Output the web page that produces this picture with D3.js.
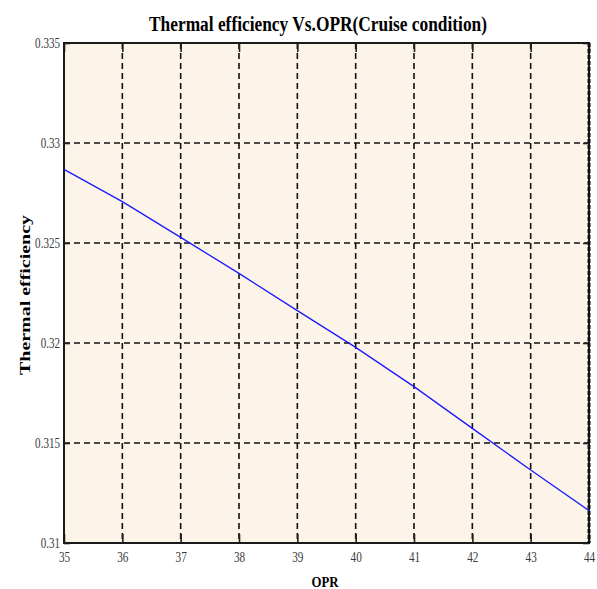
<!DOCTYPE html>
<html>
  <head>
    <meta charset="utf-8">
    <script src="https://d3js.org/d3.v7.min.js"></script>
    <style>
      body { margin: 0px; background: #fff; }
      .tick text {
        fill: #3a3a3a;
        font-size: 14px;
        font-family: 'Liberation Serif', serif;
      }
      .domain { display: none; }
    </style>
  </head>
  <body>
    <svg width="597" height="589"></svg>
    <script>
      const opr = [35, 36, 37, 38, 39, 40, 41, 42, 43, 44];
      const efficiency = [0.32868, 0.32707, 0.32528, 0.32348, 0.32162, 0.31978, 0.31782, 0.31573, 0.31365, 0.31162];
      const xTicks = [35, 36, 37, 38, 39, 40, 41, 42, 43, 44];
      const yTicks = [0.31, 0.315, 0.32, 0.325, 0.33, 0.335];

      const margin = { left: 64, right: 8, top: 43, bottom: 46 };
      const svg = d3.select('svg');
      const width = +svg.attr('width');
      const height = +svg.attr('height');
      const innerWidth = width - margin.left - margin.right;
      const innerHeight = height - margin.top - margin.bottom;

      const g = svg.append('g')
          .attr('transform', `translate(${margin.left},${margin.top})`);

      const xScale = d3.scaleLinear().domain([35, 44]).range([0, innerWidth]);
      const yScale = d3.scaleLinear().domain([0.31, 0.335]).range([innerHeight, 0]);

      // narrow width for the condensed tick font
      const narrow = s => s.replace('.', '').length * 5.6 + (s.includes('.') ? 2.5 : 0);

      // background
      g.append('rect')
        .attr('width', innerWidth)
        .attr('height', innerHeight)
        .attr('fill', '#fdf4e9');

      // dashed grid
      g.selectAll('.vgrid').data(xTicks.slice(1, -1)).enter()
        .append('line')
          .attr('x1', d => xScale(d)).attr('x2', d => xScale(d))
          .attr('y1', 0).attr('y2', innerHeight)
          .attr('stroke', '#111').attr('stroke-width', 1.6)
          .attr('stroke-dasharray', '6,4');
      g.selectAll('.hgrid').data(yTicks.slice(1, -1)).enter()
        .append('line')
          .attr('y1', d => yScale(d)).attr('y2', d => yScale(d))
          .attr('x1', 0).attr('x2', innerWidth)
          .attr('stroke', '#111').attr('stroke-width', 1.6)
          .attr('stroke-dasharray', '6,4');

      // inner tick marks on all four sides
      g.append('g').call(d3.axisTop(xScale).tickValues(xTicks).tickSize(-9).tickFormat(''))
        .selectAll('line').attr('stroke', '#222').attr('stroke-width', 1.6);
      const xAxisG = g.append('g').attr('transform', `translate(0,${innerHeight})`)
        .call(d3.axisBottom(xScale).tickValues(xTicks).tickSize(-9).tickPadding(9).tickFormat(d3.format('d')));
      xAxisG.selectAll('line').attr('stroke', '#222').attr('stroke-width', 1.6);
      xAxisG.selectAll('text')
        .attr('textLength', function() { return narrow(this.textContent); })
        .attr('lengthAdjust', 'spacingAndGlyphs');
      const yAxisG = g.append('g')
        .call(d3.axisLeft(yScale).tickValues(yTicks).tickSize(-6).tickPadding(4).tickFormat(d => String(+d.toFixed(3))));
      yAxisG.selectAll('line').attr('stroke', '#222').attr('stroke-width', 1.6);
      yAxisG.selectAll('text')
        .attr('textLength', function() { return narrow(this.textContent); })
        .attr('lengthAdjust', 'spacingAndGlyphs');
      g.append('g').attr('transform', `translate(${innerWidth},0)`)
        .call(d3.axisRight(yScale).tickValues(yTicks).tickSize(-6).tickFormat(''))
        .selectAll('line').attr('stroke', '#222').attr('stroke-width', 1.6);

      // frame
      g.append('rect')
        .attr('width', innerWidth)
        .attr('height', innerHeight)
        .attr('fill', 'none')
        .attr('stroke', '#1a1a1a')
        .attr('stroke-width', 2);
      g.append('line')
        .attr('x1', innerWidth).attr('x2', innerWidth)
        .attr('y1', 0).attr('y2', innerHeight)
        .attr('stroke', '#111').attr('stroke-width', 3)
        .attr('stroke-dasharray', '4,2');

      // data line
      g.append('path')
        .datum(opr.map((d, i) => [d, efficiency[i]]))
        .attr('fill', 'none')
        .attr('stroke', '#1a1aff')
        .attr('stroke-width', 1.3)
        .attr('d', d3.line().x(d => xScale(d[0])).y(d => yScale(d[1])));

      // texts
      svg.append('text')
        .attr('x', 318).attr('y', 31)
        .attr('text-anchor', 'middle')
        .attr('textLength', 338)
        .attr('lengthAdjust', 'spacingAndGlyphs')
        .style('font-family', "'Liberation Serif', serif")
        .style('font-weight', 'bold')
        .style('font-size', '20px')
        .attr('fill', '#000')
        .text('Thermal efficiency Vs.OPR(Cruise condition)');

      svg.append('text')
        .attr('x', 325).attr('y', 587)
        .attr('text-anchor', 'middle')
        .attr('textLength', 27)
        .attr('lengthAdjust', 'spacingAndGlyphs')
        .style('font-family', "'Liberation Serif', serif")
        .style('font-weight', 'bold')
        .style('font-size', '14px')
        .attr('fill', '#000')
        .text('OPR');

      svg.append('text')
        .attr('transform', 'translate(30,295) rotate(-90)')
        .attr('text-anchor', 'middle')
        .attr('textLength', 160)
        .attr('lengthAdjust', 'spacingAndGlyphs')
        .style('font-family', "'Liberation Serif', serif")
        .style('font-weight', 'bold')
        .style('font-size', '14px')
        .attr('fill', '#000')
        .text('Thermal efficiency');
    </script>
  </body>
</html>
